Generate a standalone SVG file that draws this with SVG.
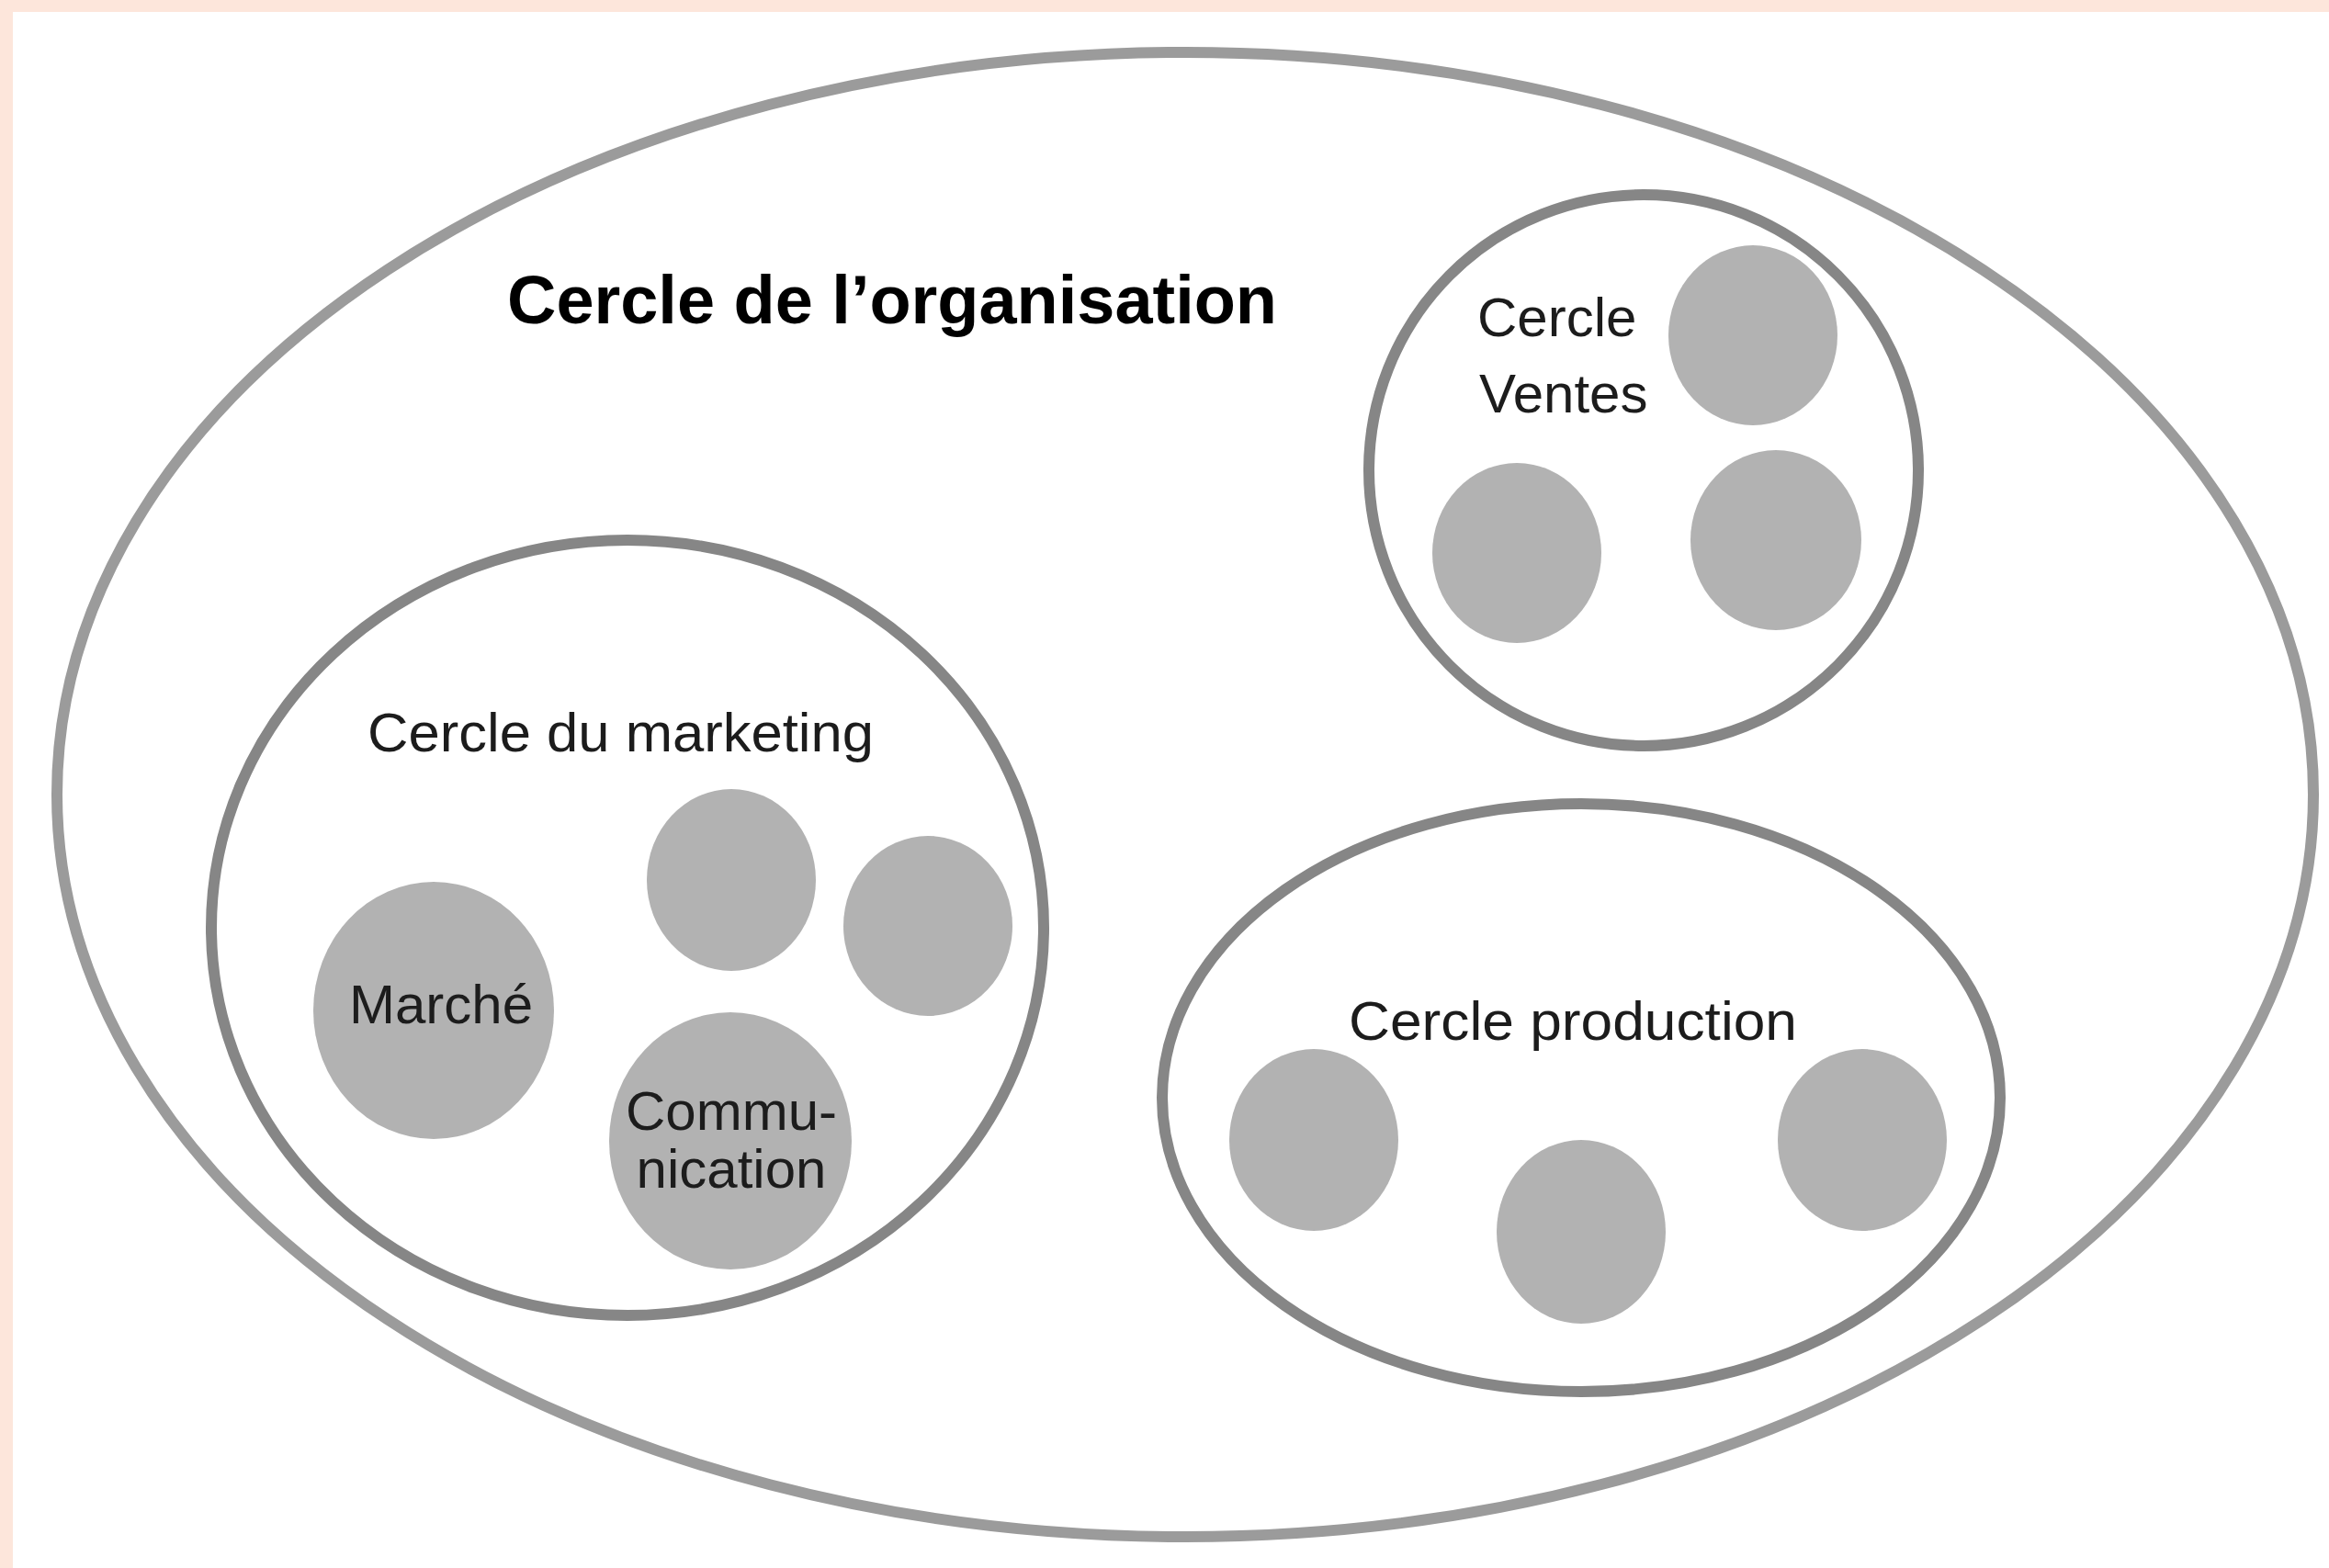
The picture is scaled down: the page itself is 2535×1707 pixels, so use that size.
<svg xmlns="http://www.w3.org/2000/svg" width="2535" height="1707" viewBox="0 0 2535 1707">
<style>
.outer{fill:none;stroke:#9b9b9b;stroke-width:12}
.group{fill:none;stroke:#868686;stroke-width:12}
.member{fill:#b2b2b2;stroke:none}
.lbl{font-family:"Liberation Sans",Arial,sans-serif;font-size:60px;fill:#1c1c1c}
.title{font-family:"Liberation Sans",Arial,sans-serif;font-size:74px;font-weight:bold;fill:#000}
.mid{text-anchor:middle}
</style>
<rect x="0" y="0" width="2535" height="1707" fill="#ffffff"/>
<rect x="0" y="0" width="2535" height="13" fill="#fde6db"/>
<rect x="0" y="0" width="14" height="1707" fill="#fde6db"/>
<g id="organisation">
<ellipse class="outer" cx="1290" cy="865" rx="1228" ry="808"/>
<text class="title" x="552" y="352" textLength="838" lengthAdjust="spacingAndGlyphs">Cercle de l’organisation</text>
</g>
<g id="ventes">
<ellipse class="group" cx="1789" cy="512" rx="299" ry="300"/>
<text class="lbl" x="1608" y="366">Cercle</text>
<text class="lbl" x="1610" y="449">Ventes</text>
<ellipse class="member" cx="1908" cy="365" rx="92" ry="98"/>
<ellipse class="member" cx="1651" cy="602" rx="92" ry="98"/>
<ellipse class="member" cx="1933" cy="588" rx="93" ry="98"/>
</g>
<g id="marketing">
<ellipse class="group" cx="683" cy="1010" rx="453" ry="422"/>
<text class="lbl" x="400" y="818" textLength="551" lengthAdjust="spacingAndGlyphs">Cercle du marketing</text>
<ellipse class="member" cx="472" cy="1100" rx="131" ry="140"/>
<text class="lbl mid" x="480" y="1114">Marché</text>
<ellipse class="member" cx="796" cy="958" rx="92" ry="99"/>
<ellipse class="member" cx="1010" cy="1008" rx="92" ry="98"/>
<ellipse class="member" cx="795" cy="1242" rx="132" ry="140"/>
<text class="lbl mid" x="796" y="1230">Commu-</text>
<text class="lbl mid" x="796" y="1293">nication</text>
</g>
<g id="production">
<ellipse class="group" cx="1721" cy="1195" rx="456" ry="320"/>
<text class="lbl" x="1468" y="1132" textLength="488" lengthAdjust="spacingAndGlyphs">Cercle production</text>
<ellipse class="member" cx="1430" cy="1241" rx="92" ry="99"/>
<ellipse class="member" cx="1721" cy="1341" rx="92" ry="100"/>
<ellipse class="member" cx="2027" cy="1241" rx="92" ry="99"/>
</g>
<g id="connectors"></g>
</svg>
